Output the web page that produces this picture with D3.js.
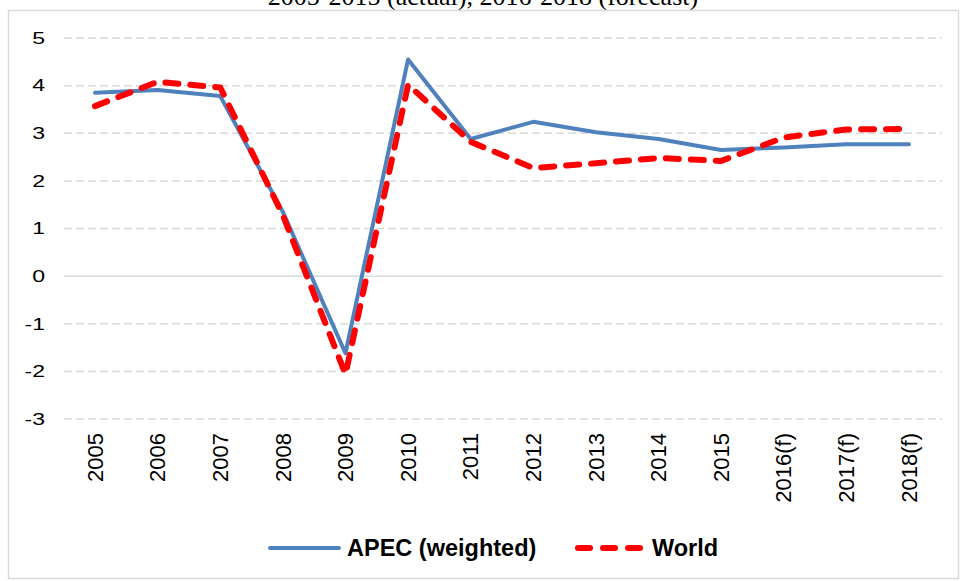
<!DOCTYPE html>
<html>
<head>
<meta charset="utf-8">
<script src="https://cdn.jsdelivr.net/npm/d3@7"></script>
<style>
  html, body { margin: 0; padding: 0; background: #fff; }
  svg { display: block; }
  text { font-family: Arial, 'Liberation Sans', sans-serif; fill: #000; }
</style>
</head>
<body>
<svg id="vis_svg" width="963" height="581"></svg>
<script>
const years = ['2005', '2006', '2007', '2008', '2009', '2010', '2011', '2012', '2013', '2014', '2015', '2016(f)', '2017(f)', '2018(f)'];
const apec = [3.85, 3.91, 3.78, 1.35, -1.62, 4.55, 2.88, 3.24, 3.02, 2.88, 2.65, 2.7, 2.77, 2.77];
const world = [3.57, 4.08, 3.96, 1.28, -2.06, 4.02, 2.82, 2.27, 2.37, 2.48, 2.42, 2.91, 3.08, 3.09];
const yTicks = [5, 4, 3, 2, 1, 0, -1, -2, -3];
const seriesNames = ['APEC (weighted)', 'World'];
const title = '2005-2015 (actual), 2016-2018 (forecast)';

const svg = d3.select('#vis_svg');

// title of the figure, mostly cut off by the top edge
svg.append('text')
  .attr('x', 483)
  .attr('y', 5)
  .attr('text-anchor', 'middle')
  .style('font-family', "'Times New Roman', 'Liberation Serif', serif")
  .style('font-size', '26px')
  .text(title);

// outer frame
svg.append('rect')
  .attr('x', 8.5).attr('y', 10.5)
  .attr('width', 950).attr('height', 568)
  .attr('fill', 'none')
  .attr('stroke', '#d9d9d9')
  .attr('stroke-width', 1.5);

const xScale = d3.scalePoint()
  .domain(years)
  .range([63.7, 940.3])
  .padding(0.5);

const yScale = d3.scaleLinear().domain([-3, 5]).range([419, 38]);

const gridLeft = 64, gridRight = 942;

// gridlines
svg.append('g')
  .selectAll('line')
  .data(yTicks)
  .enter()
  .append('line')
  .attr('x1', gridLeft)
  .attr('x2', gridRight)
  .attr('y1', (d) => yScale(d))
  .attr('y2', (d) => yScale(d))
  .attr('stroke', '#d9d9d9')
  .attr('stroke-width', 1.5)
  .attr('stroke-dasharray', (d) => (d === 0 ? null : '8,4'));

// y labels (horizontally stretched as in the source)
svg.append('g')
  .selectAll('text')
  .data(yTicks)
  .enter()
  .append('text')
  .attr('transform', (d) => `translate(45,${yScale(d)}) scale(1.4,1)`)
  .attr('dy', '0.35em')
  .attr('text-anchor', 'end')
  .style('font-size', '16.5px')
  .text((d) => d);

// x labels, rotated
svg.append('g')
  .selectAll('text')
  .data(years)
  .enter()
  .append('text')
  .attr('transform', (d) => `translate(${xScale(d)},433) rotate(-90)`)
  .attr('dy', '0.35em')
  .attr('text-anchor', 'end')
  .style('font-size', '22px')
  .text((d) => d);

const line = d3.line()
  .x((d, i) => xScale(years[i]))
  .y((d) => yScale(d));

svg.append('path')
  .datum(apec)
  .attr('d', line)
  .attr('fill', 'none')
  .attr('stroke', '#4f81bd')
  .attr('stroke-width', 4)
  .attr('stroke-linejoin', 'round')
  .attr('stroke-linecap', 'round');

svg.append('path')
  .datum(world)
  .attr('d', line)
  .attr('fill', 'none')
  .attr('stroke', '#ff0000')
  .attr('stroke-width', 6)
  .attr('stroke-dasharray', '13,12')
  .attr('stroke-linecap', 'round');

// legend
const legend = svg.append('g');
legend.append('line')
  .attr('x1', 270).attr('x2', 339)
  .attr('y1', 548).attr('y2', 548)
  .attr('stroke', '#4f81bd')
  .attr('stroke-width', 4)
  .attr('stroke-linecap', 'round');
legend.append('text')
  .attr('x', 347).attr('y', 556)
  .style('font-size', '23.5px')
  .style('font-weight', 'bold')
  .text(seriesNames[0]);

legend.append('line')
  .attr('x1', 578).attr('x2', 642)
  .attr('y1', 548).attr('y2', 548)
  .attr('stroke', '#ff0000')
  .attr('stroke-width', 6)
  .attr('stroke-dasharray', '12,13')
  .attr('stroke-linecap', 'round');
legend.append('text')
  .attr('x', 652).attr('y', 556)
  .style('font-size', '23.5px')
  .style('font-weight', 'bold')
  .text(seriesNames[1]);
</script>
</body>
</html>
